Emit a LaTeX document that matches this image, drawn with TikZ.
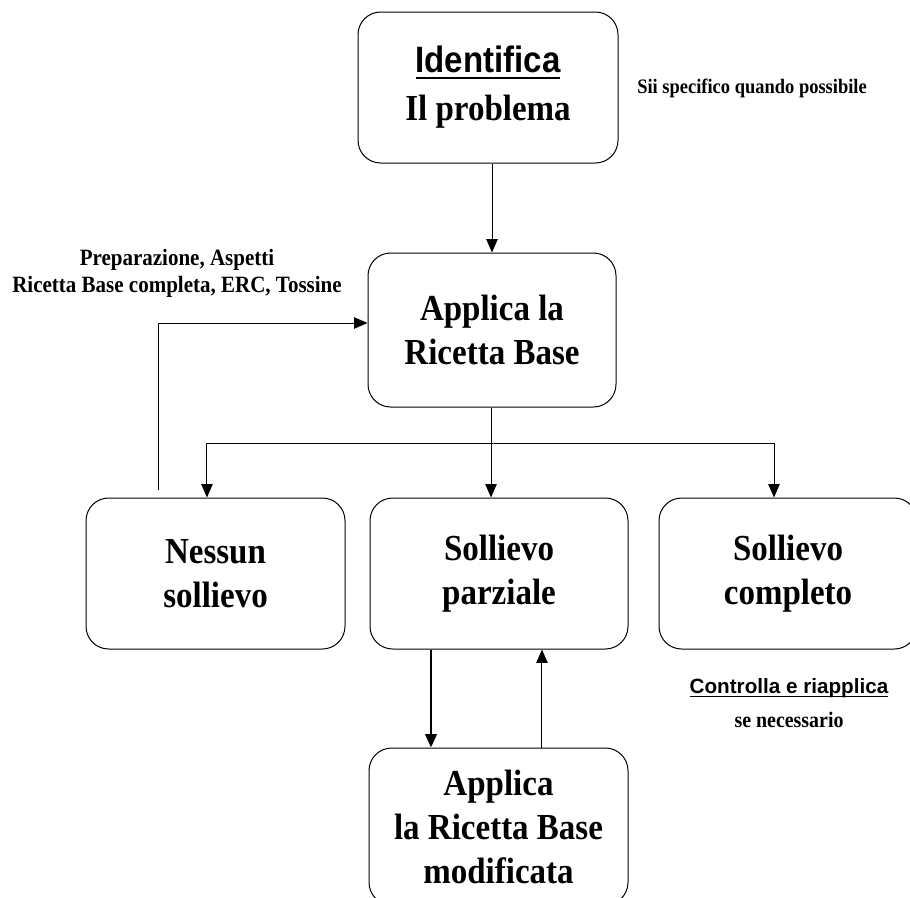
\documentclass[tikz,border=0pt]{standalone}
\usepackage{fontspec}
\usepackage{tikz}
\newfontfamily\boxfont{Liberation Serif}[FakeStretch=0.9]
\newfontfamily\headfont{Liberation Sans}[FakeStretch=0.9]
\newfontfamily\notefont{Liberation Sans}
\usetikzlibrary{arrows.meta,positioning,calc}
% underline close to the baseline
\newcommand{\baseul}[1]{\mbox{\setbox0\hbox{#1}\rlap{\rule[-0.16em]{\wd0}{0.045em}}\box0}}

\begin{document}
\begin{tikzpicture}[x=0.75pt,y=-0.75pt,
    >={Triangle[length=10pt,width=8.5pt]},
    flowbox/.style={draw,line width=0.75pt,rounded corners=17pt,align=center,
        font=\boxfont\bfseries\fontsize{27.5}{33}\selectfont},
    note/.style={align=center,inner sep=0pt},
    link/.style={line width=0.75pt}]
    % slide frame
    \useasboundingbox (0,0) rectangle (910,897);
    \clip (0,0) rectangle (910,897);

    % boxes
    \node[flowbox,minimum width=195pt,minimum height=113.25pt] (ident) at (488,87.5)
        {{\headfont\baseul{Identifica}}\\[3pt]Il problema};
    \node[flowbox,minimum width=186pt,minimum height=115.5pt] (apply) at (492,330)
        {Applica la\\Ricetta Base};
    \node[flowbox,minimum width=194.25pt,minimum height=113.25pt] (none) at (215.5,573.5)
        {Nessun\\sollievo};
    \node[flowbox,minimum width=193.5pt,minimum height=113.25pt] (partial) at (499,573.5)
        {Sollievo\\parziale};
    \node[flowbox,minimum width=193.5pt,minimum height=113.25pt] (full) at (788,573.5)
        {Sollievo\\completo};
    \node[flowbox,minimum width=194.25pt,minimum height=117.75pt] (modified) at (498.5,826.5)
        {Applica\\la Ricetta Base\\modificata};

    % notes
    \node[note,anchor=base west,font=\boxfont\bfseries\fontsize{15.4}{18}\selectfont] (hint) at (637,93)
        {Sii specifico quando possibile};
    \node[note,font=\boxfont\bfseries\fontsize{17.5}{20.25}\selectfont] (loopnote) at (177,273)
        {Preparazione, Aspetti\\Ricetta Base completa, ERC, Tossine};
    \node[note,font=\boxfont\bfseries\fontsize{16.6}{25.5}\selectfont] (check) at (789,703)
        {{\notefont\fontsize{15.5}{25.5}\selectfont\baseul{Controlla e riapplica}}\\se necessario};

    % connectors
    \coordinate (split) at (491,443);
    \coordinate (loopstart) at (158,490);
    \draw[link,->] (apply.north |- ident.south) -- (apply.north);
    \draw[link] (apply.south -| split) -- (split);
    \draw[link,->] (split) -- (split |- partial.north);
    \draw[link,->] (split) -| ([xshift=-6.4pt]none.north);
    \draw[link,->] (split) -| ([xshift=-10.5pt]full.north);
    \draw[link,->] (loopstart) |- ([yshift=5.25pt]apply.west);
    \draw[->,line width=2pt] ([xshift=-51pt]partial.south) -- ([xshift=-51pt]partial.south |- modified.north);
    \draw[link,->] ([xshift=32.6pt]modified.north) -- ([xshift=32.6pt]modified.north |- partial.south);
\end{tikzpicture}
\end{document}
